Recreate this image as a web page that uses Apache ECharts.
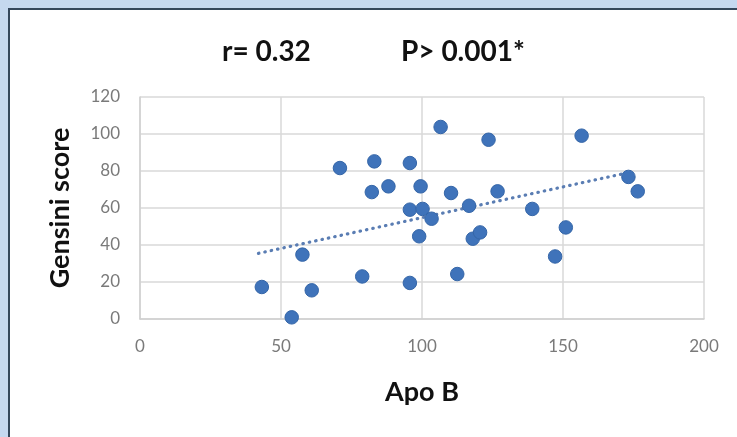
<!DOCTYPE html>
<html>
<head>
<meta charset="utf-8">
<script src="https://cdn.jsdelivr.net/npm/echarts@6/dist/echarts.min.js"></script>
<style>
html,body{margin:0;padding:0;background:#fff;}
#chart{width:737px;height:437px;}
</style>
</head>
<body>
<div id="chart"></div>
<script>
// Apo B (x) and Gensini score (y)
var apoB    = [43.2, 53.8, 57.6, 60.9, 70.9, 78.8, 82.2, 83.1, 88.1, 95.7, 95.7, 95.7, 99.5, 100.2, 103.4, 99.0, 106.6, 110.3, 112.5, 116.7, 118.0, 120.6, 123.6, 126.8, 139.1, 147.2, 151.0, 156.6, 173.2, 176.5];
var gensini = [17.3, 0.9, 34.8, 15.5, 81.6, 23.0, 68.6, 85.2, 71.7, 84.3, 59.1, 19.5, 71.7, 59.5, 54.2, 44.7, 103.8, 68.1, 24.3, 61.2, 43.4, 46.8, 96.9, 69.0, 59.5, 33.8, 49.5, 99.1, 76.8, 69.0];
// linear trend line end points as drawn in the reference
var trendX = [42, 171];
var trendY = [35.5, 78.4];
var xTicks = [0, 50, 100, 150, 200];
var yTicks = [0, 20, 40, 60, 80, 100, 120];
var titleR = 'r= 0.32';
var titleP = 'P> 0.001*';
var xName = 'Apo B';
var yName = 'Gensini score';

var points = apoB.map(function (x, i) { return [x, gensini[i]]; });
var trend = trendX.map(function (x, i) { return [x, trendY[i]]; });
var FONT = 'Lato, "Open Sans", sans-serif';

var chart = echarts.init(document.getElementById('chart'), null, {renderer: 'canvas'});
chart.setOption({
  backgroundColor: '#ffffff',
  animation: false,
  title: [
    {text: titleR, left: 217, top: 33, textStyle: {fontFamily: FONT, fontWeight: 'bold', fontSize: 28, color: '#111'}},
    {text: titleP, left: 396, top: 33, textStyle: {fontFamily: FONT, fontWeight: 'bold', fontSize: 28, color: '#111'}}
  ],
  graphic: [
    {type: 'rect', left: 0, top: 0, shape: {width: 9, height: 437}, style: {fill: '#c5d8ef'}, silent: true},
    {type: 'rect', left: 0, top: 0, shape: {width: 737, height: 8}, style: {fill: '#c5d8ef'}, silent: true},
    {type: 'rect', left: 8, top: 8, shape: {width: 2, height: 429}, style: {fill: '#34475b'}, silent: true},
    {type: 'rect', left: 8, top: 8, shape: {width: 729, height: 2}, style: {fill: '#34475b'}, silent: true}
  ],
  grid: {left: 140, right: 33, top: 97, bottom: 118},
  xAxis: {
    type: 'value', min: xTicks[0], max: xTicks[xTicks.length - 1], interval: 50,
    name: xName, nameLocation: 'middle', nameGap: 60,
    nameTextStyle: {fontFamily: FONT, fontWeight: 'bold', fontSize: 27, color: '#111'},
    axisLine: {show: true, lineStyle: {color: '#d0d0d0', width: 1.5}},
    axisTick: {show: false},
    axisLabel: {margin: 19, fontFamily: FONT, fontSize: 17, color: '#7a7a7a'},
    splitLine: {show: true, lineStyle: {color: '#d9d9d9', width: 1.5}}
  },
  yAxis: {
    type: 'value', min: yTicks[0], max: yTicks[yTicks.length - 1], interval: 20,
    name: yName, nameLocation: 'middle', nameGap: 66, nameRotate: 90,
    nameTextStyle: {fontFamily: FONT, fontWeight: 'bold', fontSize: 27, color: '#111'},
    axisLine: {show: true, lineStyle: {color: '#d0d0d0', width: 1.5}},
    axisTick: {show: false},
    axisLabel: {margin: 20, fontFamily: FONT, fontSize: 17, color: '#7a7a7a'},
    splitLine: {show: true, lineStyle: {color: '#d9d9d9', width: 1.5}}
  },
  series: [
    {
      type: 'line', data: trend, symbol: 'none', silent: true, z: 1,
      lineStyle: {color: '#5a7db3', width: 3.2, type: [0.5, 6], cap: 'round'}
    },
    {
      type: 'scatter', data: points, symbol: 'circle', symbolSize: 13.5, z: 2,
      itemStyle: {color: '#3f73ba', borderColor: '#3566a8', borderWidth: 1, opacity: 1}
    }
  ]
});
</script>
</body>
</html>
